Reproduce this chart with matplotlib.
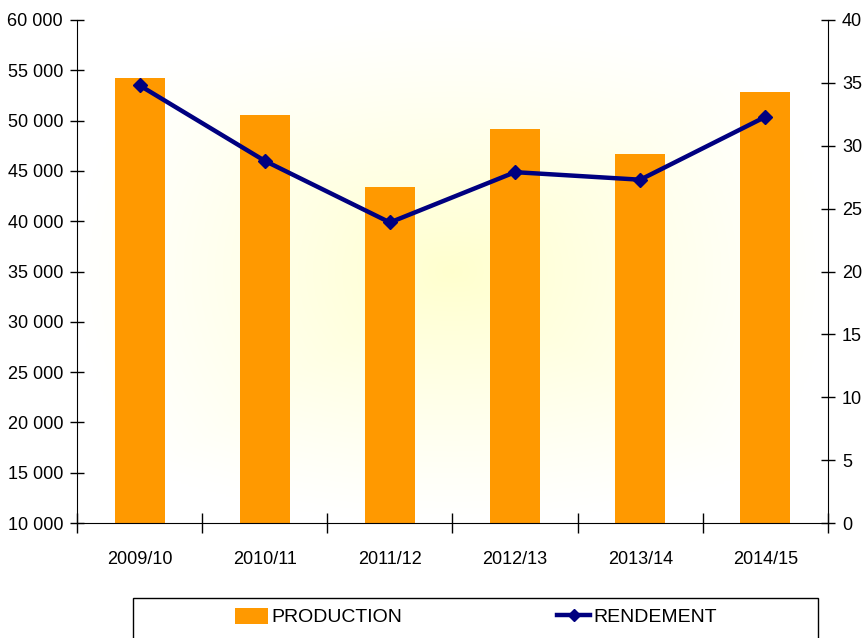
import numpy as np
import matplotlib.pyplot as plt
from matplotlib.lines import Line2D
from matplotlib.patches import Patch, Rectangle
from matplotlib.ticker import FuncFormatter

plt.rcParams['font.family'] = ['Liberation Sans', 'DejaVu Sans']

# données
campagnes = ["2009/10", "2010/11", "2011/12", "2012/13", "2013/14", "2014/15"]
production = [54200, 50550, 43400, 49150, 46700, 52850]
rendement = [34.8, 28.8, 23.9, 27.9, 27.3, 32.3]

orange = "#FF9900"
bleu = "#000080"

fig = plt.figure(figsize=(8.67, 6.38), dpi=100)
ax = fig.add_axes([77/867, 1-523/638, (828-77)/867, (523-20)/638])

# fond en dégradé depuis le centre
nx_, ny_ = 300, 200
gx, gy = np.meshgrid(np.linspace(-1, 1, nx_), np.linspace(-1, 1, ny_))
d = np.clip(0.6*np.sqrt(gx**2 + gy**2) + 0.4*np.maximum(abs(gx), abs(gy)), 0, 1)
t = (1 - d)**1.1
img = np.ones((ny_, nx_, 3))
img[..., 2] = 1 - 0.19*t
ax.imshow(img, extent=(0, 1, 0, 1), transform=ax.transAxes, aspect='auto', zorder=0)

x = np.arange(len(campagnes))
ax.bar(x, production, width=0.4, color=orange, zorder=2)
ax.set_xlim(-0.5, len(campagnes)-0.5)
ax.set_ylim(10000, 60000)
ax.set_yticks(np.arange(10000, 60001, 5000))
ax.yaxis.set_major_formatter(FuncFormatter(lambda v, p: f"{int(v):,}".replace(",", " ")))
ax.set_xticks(x)
ax.set_xticklabels(campagnes)
ax.set_xticks(np.arange(-0.5, len(campagnes)), minor=True)
ax.tick_params(axis='x', which='major', length=0, pad=20, labelsize=13)
ax.tick_params(axis='x', which='minor', direction='inout', length=14, width=1)
ax.tick_params(axis='y', direction='inout', length=10, width=1, labelsize=13, pad=5)
ax.spines['top'].set_visible(False)
ax.spines['right'].set_visible(False)

ax2 = ax.twinx()
ax2.plot(x, rendement, color=bleu, lw=3.2, marker='D', markersize=7, zorder=3)
ax2.set_ylim(0, 40)
ax2.set_yticks(np.arange(0, 41, 5))
ax2.tick_params(axis='y', direction='inout', length=10, width=1, labelsize=13, pad=5)
ax2.spines['top'].set_visible(False)
ax2.spines['left'].set_visible(False)
ax2.spines['bottom'].set_visible(False)
ax2.patch.set_visible(False)

# légende
cadre = Rectangle((133/867, -0.02), (818-133)/867, 1 - 598/638 + 0.02,
                  transform=fig.transFigure, fill=False, edgecolor='black', lw=1, clip_on=False)
fig.patches.append(cadre)
handles = [Patch(facecolor=orange, edgecolor='none'),
           Line2D([], [], color=bleu, lw=3.2, marker='D', markersize=6)]
fig.legend(handles, ["PRODUCTION", "RENDEMENT"], loc='center', bbox_to_anchor=(476/867, 1-617/638),
           ncol=2, frameon=False, fontsize=14, handlelength=1.7, handleheight=0.9,
           handletextpad=0.15, columnspacing=8.0)

fig.savefig("out.png", dpi=100)
